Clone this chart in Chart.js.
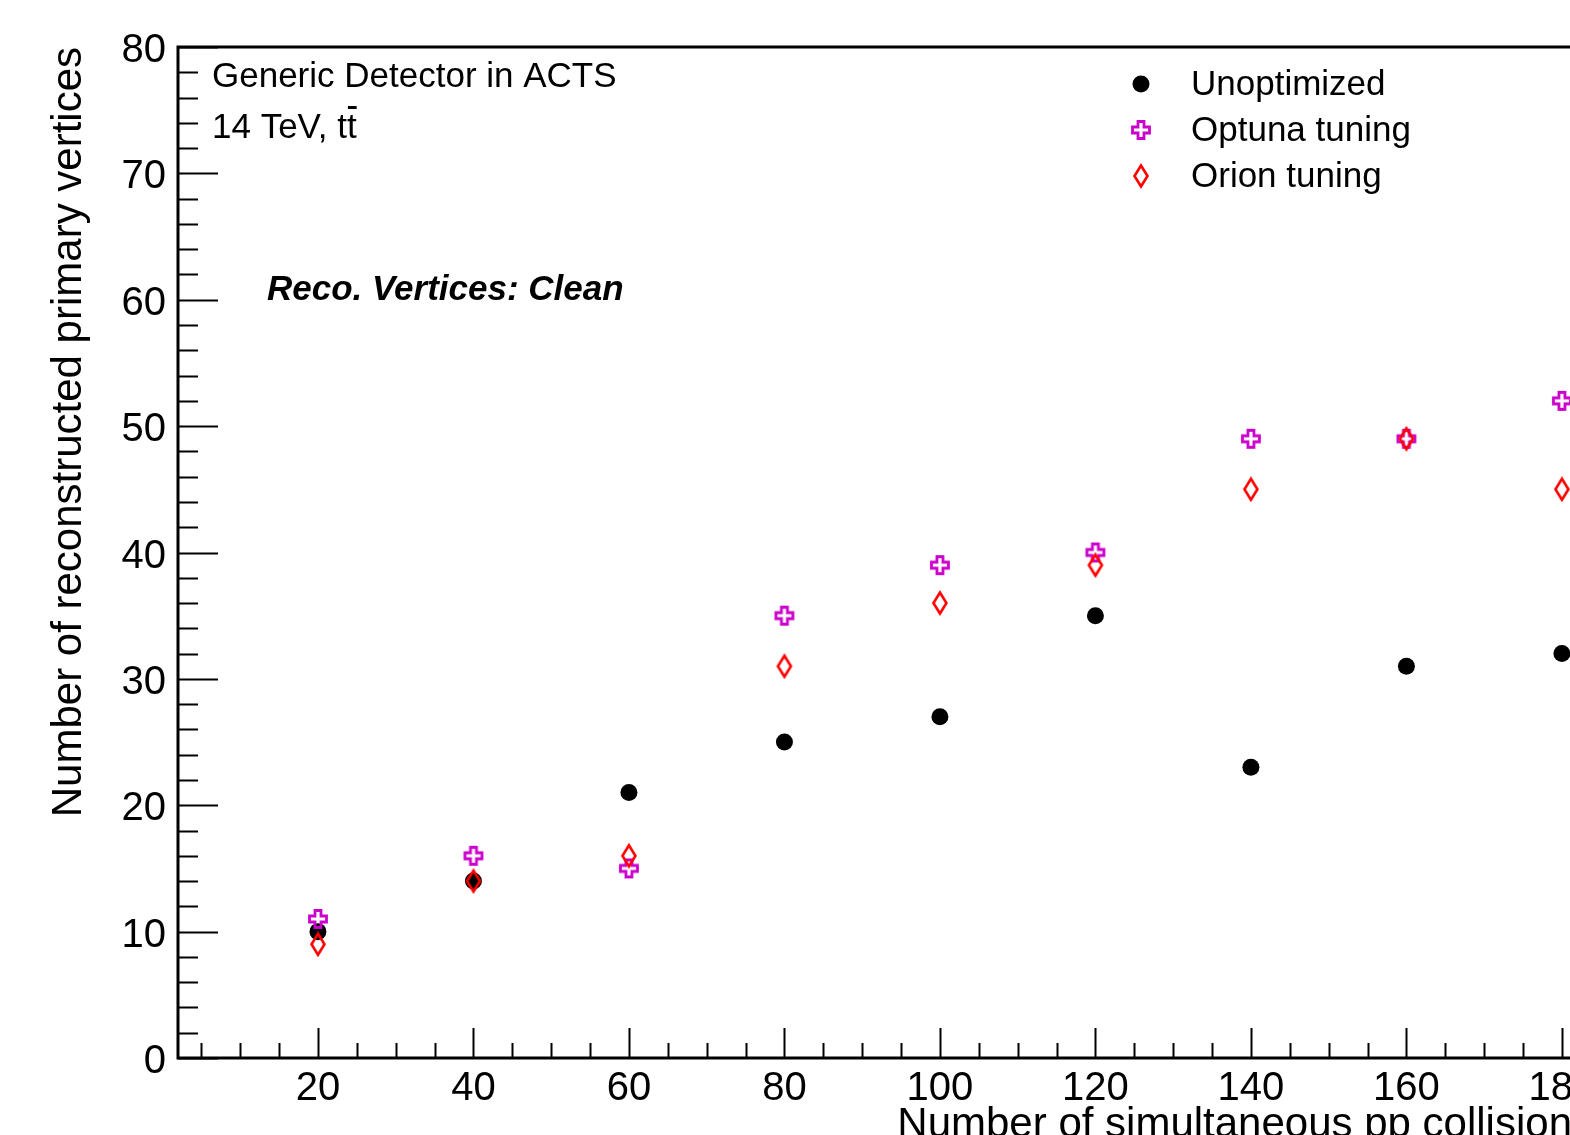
<!DOCTYPE html>
<html>
<head>
<meta charset="utf-8">
<script src="https://cdn.jsdelivr.net/npm/chart.js@4/dist/chart.umd.min.js"></script>
<style>
    html, body { margin: 0; padding: 0; background: #fff; overflow: hidden; }
    #plot { display: block; }
</style>
</head>
<body>
<canvas id="plot" width="1632" height="1170"></canvas>
<script>
// values
const pileup = [20, 40, 60, 80, 100, 120, 140, 160, 180];
const unoptimized = [10, 14, 21, 25, 27, 35, 23, 31, 32];
const optunaTuning = [11, 16, 15, 35, 39, 40, 49, 49, 52];
const orionTuning = [9, 14, 16, 31, 36, 39, 45, 49, 45];

const xTickLabels = [20, 40, 60, 80, 100, 120, 140, 160, 180];
const yTickLabels = [0, 10, 20, 30, 40, 50, 60, 70, 80];

const seriesNames = ['Unoptimized', 'Optuna tuning', 'Orion tuning'];

const FONT = "'Liberation Sans', Arial, Helvetica, sans-serif";
const MAGENTA = '#cc00cc';
const RED = '#ff0000';

function toPoints(values) {
    return pileup.map((x, i) => ({ x: x, y: values[i] }));
}

// ROOT style open cross (marker 28)
function makeOpenCross() {
    const c = document.createElement('canvas');
    c.width = 22; c.height = 22;
    const g = c.getContext('2d');
    const m = 11, o = 8.5, a = 3;
    g.strokeStyle = MAGENTA;
    g.lineWidth = 2.8;
    g.lineJoin = 'miter';
    g.beginPath();
    g.moveTo(m - a, m - o); g.lineTo(m + a, m - o); g.lineTo(m + a, m - a);
    g.lineTo(m + o, m - a); g.lineTo(m + o, m + a); g.lineTo(m + a, m + a);
    g.lineTo(m + a, m + o); g.lineTo(m - a, m + o); g.lineTo(m - a, m + a);
    g.lineTo(m - o, m + a); g.lineTo(m - o, m - a); g.lineTo(m - a, m - a);
    g.closePath();
    g.stroke();
    return c;
}

// ROOT style open diamond (marker 27)
function makeOpenDiamond() {
    const c = document.createElement('canvas');
    c.width = 18; c.height = 26;
    const g = c.getContext('2d');
    g.strokeStyle = RED;
    g.lineWidth = 2.6;
    g.beginPath();
    g.moveTo(9, 2.5); g.lineTo(15.5, 13); g.lineTo(9, 23.5); g.lineTo(2.5, 13);
    g.closePath();
    g.stroke();
    return c;
}

const crossImg = makeOpenCross();
const diamondImg = makeOpenDiamond();

const rootFrame = {
    id: 'rootFrame',
    afterDatasetsDraw(chart) {
        const ctx = chart.ctx;
        const a = chart.chartArea;
        const xs = chart.scales.x, ys = chart.scales.y;
        ctx.save();
        ctx.strokeStyle = '#000';

        // frame
        ctx.lineWidth = 3;
        ctx.strokeRect(a.left, a.top, a.right - a.left, a.bottom - a.top);

        // y ticks, inward
        ctx.lineWidth = 2;
        ctx.beginPath();
        for (let v = ys.min; v <= ys.max; v += 2) {
            const py = Math.round(ys.getPixelForValue(v)) + 0.5;
            const len = (v % 10 === 0) ? 40 : 20;
            ctx.moveTo(a.left, py);
            ctx.lineTo(a.left + len, py);
        }
        // x ticks, inward
        for (let v = Math.ceil(xs.min / 5) * 5; v <= xs.max; v += 5) {
            const px = Math.round(xs.getPixelForValue(v)) + 0.5;
            const len = (v % 20 === 0) ? 30 : 15;
            ctx.moveTo(px, a.bottom);
            ctx.lineTo(px, a.bottom - len);
        }
        ctx.stroke();

        // axis titles
        ctx.fillStyle = '#000';
        ctx.font = '42px ' + FONT;
        ctx.textAlign = 'right';
        ctx.textBaseline = 'alphabetic';
        ctx.fillText('Number of simultaneous pp collisions', a.right, 1137);
        ctx.save();
        ctx.translate(81, a.top);
        ctx.rotate(-Math.PI / 2);
        ctx.fillText('Number of reconstructed primary vertices', 0, 0);
        ctx.restore();

        // labels
        ctx.textAlign = 'left';
        ctx.font = '35px ' + FONT;
        ctx.fillText('Generic Detector in ACTS', 212, 87);
        const lbl = '14 TeV, tt';
        ctx.fillText(lbl, 212, 138);
        const wAll = ctx.measureText(lbl).width;
        const wT = ctx.measureText('t').width;
        ctx.fillRect(212 + wAll - wT + 1, 106, wT - 1, 3);

        ctx.font = 'italic bold 35px ' + FONT;
        ctx.fillText('Reco. Vertices: Clean', 267, 300);

        // legend
        const rows = [84, 130, 176];
        ctx.font = '35px ' + FONT;
        ctx.textBaseline = 'middle';
        rows.forEach((y, i) => {
            ctx.fillText(seriesNames[i], 1191, y + 1);
        });
        ctx.beginPath();
        ctx.arc(1141, rows[0], 8.5, 0, Math.PI * 2);
        ctx.fill();
        ctx.drawImage(crossImg, 1141 - 11, rows[1] - 11);
        ctx.drawImage(diamondImg, 1141 - 9, rows[2] - 13);

        ctx.restore();
    }
};

const ctx = document.getElementById('plot').getContext('2d');
new Chart(ctx, {
    type: 'scatter',
    data: {
        datasets: [
            {
                label: seriesNames[0],
                data: toPoints(unoptimized),
                pointStyle: 'circle',
                pointRadius: 8.5,
                pointBackgroundColor: '#000',
                pointBorderWidth: 0,
                order: 3
            },
            {
                label: seriesNames[1],
                data: toPoints(optunaTuning),
                pointStyle: crossImg,
                order: 2
            },
            {
                label: seriesNames[2],
                data: toPoints(orionTuning),
                pointStyle: diamondImg,
                order: 1
            }
        ]
    },
    options: {
        responsive: false,
        animation: false,
        devicePixelRatio: 1,
        layout: { padding: { top: 47, right: 39, bottom: 0, left: 0 } },
        plugins: {
            legend: { display: false },
            tooltip: { enabled: false }
        },
        scales: {
            x: {
                type: 'linear',
                min: 2,
                max: 184,
                grid: { display: false, drawTicks: false },
                border: { display: false },
                afterBuildTicks: scale => { scale.ticks = xTickLabels.map(v => ({ value: v })); },
                afterFit: scale => { scale.height = 112; },
                ticks: {
                    autoSkip: false,
                    maxRotation: 0,
                    padding: 7,
                    color: '#000',
                    font: { family: FONT, size: 40 }
                }
            },
            y: {
                type: 'linear',
                min: 0,
                max: 80,
                grid: { display: false, drawTicks: false },
                border: { display: false },
                afterBuildTicks: scale => { scale.ticks = yTickLabels.map(v => ({ value: v })); },
                afterFit: scale => { scale.width = 178; },
                ticks: {
                    autoSkip: false,
                    padding: 12,
                    labelOffset: 4,
                    color: '#000',
                    font: { family: FONT, size: 40 }
                }
            }
        }
    },
    plugins: [rootFrame]
});
</script>
</body>
</html>
